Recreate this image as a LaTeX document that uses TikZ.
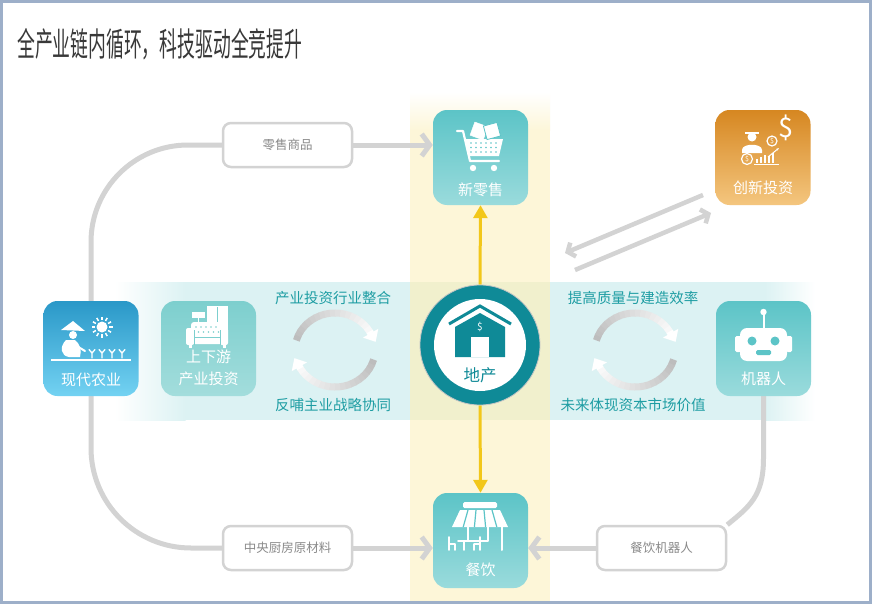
\documentclass[tikz,border=0pt]{standalone}
\usepackage{fontspec}
\usepackage{graphicx}
\setmainfont{Noto Sans CJK SC}
\usetikzlibrary{arrows.meta}
\definecolor{framec}{HTML}{9DAFC9}
\definecolor{ybg}{HTML}{FDF6D8}
\definecolor{cbg}{HTML}{DCF2F3}
\definecolor{ovl}{HTML}{F1F0CD}
\definecolor{connc}{HTML}{D3D3D3}
\definecolor{tealA}{HTML}{5CC4C7}
\definecolor{tealB}{HTML}{9ADBDC}
\definecolor{tealC}{HTML}{7DCFCE}
\definecolor{tealD}{HTML}{A3DDDC}
\definecolor{blueA}{HTML}{2A98C8}
\definecolor{blueB}{HTML}{73D2F2}
\definecolor{orA}{HTML}{D68721}
\definecolor{orB}{HTML}{F4C67F}
\definecolor{ring}{HTML}{0F8A97}
\definecolor{yel}{HTML}{F2C71A}
\definecolor{tealtxt}{HTML}{1E9DA3}
\definecolor{graytxt}{HTML}{8A8A8A}
\definecolor{titlec}{HTML}{383838}
\definecolor{arcg}{HTML}{BDBDBD}
\pgfdeclarelayer{bg}
\pgfdeclarelayer{lines}
\pgfsetlayers{bg,lines,main}
\newcommand\cycarc[4]{%
  \foreach \i in {0,...,17}{%
    \pgfmathsetmacro\cyA{#3+(#4-#3)*\i/18}%
    \pgfmathsetmacro\cyB{#3+(#4-#3)*(\i+1)/18+1}%
    \pgfmathtruncatemacro\cyP{100-\i*90/17}%
    \draw[line width=7pt, arcg!\cyP!white] (#1,#2) ++(\cyA:40 and 37) arc[start angle=\cyA, end angle=\cyB, x radius=40, y radius=37];
  }%
  \pgfmathsetmacro\cyPX{#1+40*cos(#4)}%
  \pgfmathsetmacro\cyPY{#2+37*sin(#4)}%
  \pgfmathsetmacro\cyQX{\cyPX-12*sin(#4)}%
  \pgfmathsetmacro\cyQY{\cyPY+12*cos(#4)}%
  \draw[white, line width=7pt, -{Triangle[length=10pt,width=17pt]}] (\cyPX,\cyPY) -- (\cyQX,\cyQY);
}
\tikzset{
  tile/.style={rounded corners=14pt, minimum width=95pt, minimum height=95pt, inner sep=0pt, shading angle=45},
  tealtile/.style={tile, top color=tealA, bottom color=tealB},
  lab/.style={draw=connc, line width=2.5pt, fill=white, rounded corners=8pt, minimum width=129pt, minimum height=44pt, text=graytxt, font=\fontsize{12.5}{13}\selectfont},
  conn/.style={draw=connc, line width=5pt},
  carrow/.style={conn, -{Straight Barb[length=8pt,width=22pt]}},
  diag/.style={draw=connc, line width=4.5pt, -{Straight Barb[length=6pt,width=15pt]}},
  tiletxt/.style={text=white, font=\fontsize{15}{18}\selectfont, inner sep=0pt},
  cyctxt/.style={text=tealtxt, font=\fontsize{14.5}{16}\selectfont, inner sep=0pt},
  yarrow/.style={draw=yel, line width=3pt, -{Triangle[length=13pt,width=14pt]}},
  wl/.style={draw=white, line cap=round, line join=round},
}
\begin{document}
\begin{tikzpicture}[x=1pt,y=-1pt]
\useasboundingbox (0,0) rectangle (873,605);
\begin{pgfonlayer}{bg}
  \fill[white] (0,0) rectangle (873,605);
  \fill[cbg] (185,282) rectangle (765,420);
  \shade[left color=white, right color=cbg] (115,282) rectangle (185.5,420);
  \shade[left color=cbg, right color=white] (764.5,282) rectangle (815,420);
  \shade[top color=white, bottom color=ybg] (410,92) rectangle (550,130.5);
  \fill[ybg] (410,130) rectangle (550,601);
  \fill[ovl] (410,282) rectangle (550,420);
\end{pgfonlayer}

% title
\node[anchor=west, text=titlec, font=\fontsize{33}{33}\selectfont, inner sep=0pt] (title) at (17,44) {\scalebox{0.54}[1]{全产业链内循环，科技驱动全竞提升}};

% tiles
\node[tealtile] (retail) at (480.5,157.5) {};
\node[tile, top color=orA, bottom color=orB] (invest) at (763,157.5) {};
\node[tile, top color=blueA, bottom color=blueB] (farm) at (91,348.5) {};
\node[tile, top color=tealC, bottom color=tealD] (chain) at (208.5,348.5) {};
\node[tealtile] (robot) at (763.5,348.5) {};
\node[tealtile] (food) at (480.5,540.5) {};
\node[circle, minimum size=120pt, fill=ring, draw=gray!45, line width=0.8pt, inner sep=0pt] (estate) at (480,345) {};
\fill[white] (estate.center) circle (46);

% label boxes
\node[lab] (goods) at (287.5,145) {零售商品};
\node[lab] (kitchen) at (287.5,548) {中央厨房原材料};
\node[lab] (rfood) at (661.5,548) {餐饮机器人};

% connectors
\begin{pgfonlayer}{lines}
  \draw[conn, rounded corners=97pt] (farm.north) |- (goods.west);
  \draw[conn, rounded corners=100pt] (farm.south) |- (kitchen.west);
  \draw[conn] (robot.south) -- ++(0,62) .. controls +(0,38) and +(22,-18) .. (rfood.north east);
  \draw[carrow] (goods.east) -- (goods.east -| retail.west);
  \draw[carrow] (kitchen.east) -- (kitchen.east -| food.west);
  \draw[carrow] (rfood.west) -- (rfood.west -| food.east);
  \draw[yarrow] (estate.north) -- (retail.south);
  \draw[yarrow] (estate.south) -- (food.north);
  \coordinate (d1s) at (703,195);
  \coordinate (d1e) at (565,253);
  \coordinate (d2s) at (575,270);
  \coordinate (d2e) at (711,213);
  \draw[diag] (d1s) -- (d1e);
  \draw[diag] (d2s) -- (d2e);
\end{pgfonlayer}

% tile texts
\node[tiletxt] (retailt) at (480.5,190) {新零售};
\node[tiletxt] (investt) at (763,188) {创新投资};
\node[tiletxt] (farmt) at (91,380) {现代农业};
\node[tiletxt] (chaint1) at (208.5,357) {上下游};
\node[tiletxt] (chaint2) at (208.5,379) {产业投资};
\node[tiletxt] (robott) at (763.5,379) {机器人};
\node[tiletxt] (foodt) at (480.5,570) {餐饮};
\node[text=ring, font=\fontsize{16.5}{18}\selectfont, inner sep=0pt] (estatet) at (480,375) {地产};

% cycle texts
\node[cyctxt] (c1) at (333,298) {产业投资行业整合};
\node[cyctxt] (c2) at (333,405) {反哺主业战略协同};
\node[cyctxt] (c3) at (633,298) {提高质量与建造效率};
\node[cyctxt] (c4) at (633,405) {未来体现资本市场价值};

% cycle arrows
\cycarc{335}{350}{195}{330}
\cycarc{335}{350}{15}{150}
\cycarc{635}{350}{195}{330}
\cycarc{635}{350}{15}{150}

% cart icon
\draw[wl, line width=2.2pt] (457,131) -- (463,131) -- (470,161) -- (499,161);
\fill[white] (465,139) -- (503,139) -- (499,156) -- (469,156) -- cycle;
\foreach \x in {471,476,...,496} \foreach \y in {143,147.5,152} \fill[tealA] (\x,\y) circle (0.9);
\fill[white] (473,168) circle (3.2);
\fill[white] (494,168) circle (3.2);
\draw[white, fill=white, rotate around={-20:(479,131)}] (472,124) rectangle (486,138);
\draw[tealA, line width=0.8pt, fill=white, rotate around={15:(492,131)}] (485,124) rectangle (499,138);

% investment icon
\fill[white] (752,137) circle (4.5);
\fill[white] (745,132) rectangle (759,133.5);
\fill[white] (742,153) -- (742,150) .. controls (742,143) and (762,143) .. (762,150) -- (762,153) -- cycle;
\draw[white, line width=1.2pt] (772,141) circle (5);
\node[text=white, font=\fontsize{7}{7}\selectfont, inner sep=0pt] (coin1) at (772,141) {\$};
\draw[white, line width=1.2pt] (747,159) circle (5.5);
\node[text=white, font=\fontsize{7}{7}\selectfont, inner sep=0pt] (coin2) at (747,159) {\$};
\node[text=white, font=\fontsize{27}{27}\selectfont, inner sep=0pt] (dollar) at (786,128) {\$};
\foreach \x/\h in {756/4,760/6,764/8,768/7,772/10} \fill[white] (\x,163) rectangle (\x+2.2,163-\h);
\draw[white, line width=1pt] (754,164) -- (779,164);
\draw[white, line width=1pt, -{Stealth[length=3pt]}] (768,157) -- (779,148);

% farmer icon
\fill[white] (61,330) -- (73,321) -- (85,331) -- cycle;
\fill[white] (73,335) circle (4);
\fill[white] (66,340) .. controls (59,347) and (61,356) .. (69,357) -- (80,357) .. controls (82,350) and (80,344) .. (75,340) -- cycle;
\draw[wl, line width=2pt] (75,345) -- (85,351);
\draw[white, line width=2pt] (51,359.5) -- (131,359.5);
\foreach \x in {92,102,112,122} {
  \draw[wl, line width=1.3pt] (\x,358) -- (\x,353) -- (\x-3,349.5);
  \draw[wl, line width=1.3pt] (\x,353) -- (\x+3,349.5);
}
\fill[white] (102,327) circle (5.5);
\foreach \a in {0,30,...,330} \draw[white, line width=1.5pt] (102,327) ++(\a:7) -- ++(\a:3.5);

% sofa icon
\fill[white] (192,312) rectangle (205,318);
\draw[white, line width=1.2pt] (198.5,318) -- (198.5,326);
\fill[white] (207,306) rectangle (228,342);
\draw[tealC, line width=1.2pt] (217.5,307) -- (217.5,341);
\fill[white, rounded corners=3pt] (191,322) rectangle (223,344);
\foreach \x in {196,201,...,216} {\fill[tealC] (\x,327) circle (0.8); \fill[tealC] (\x+2.5,332) circle (0.8);}
\draw[tealC, line width=1pt] (194,337) -- (220,337);
\fill[white, rounded corners=2pt] (186,328) rectangle (194,345);
\fill[white, rounded corners=2pt] (220,328) rectangle (228,345);
\draw[tealC, line width=0.8pt] (194,330) -- (194,345) (220,330) -- (220,345);
\fill[white] (189,345) rectangle (191.5,348);
\fill[white] (223,345) rectangle (225.5,348);

% robot icon
\draw[white, line width=2pt] (763.5,313) -- (763.5,330);
\fill[white] (763.5,312) circle (3.2);
\fill[white, rounded corners=1.5pt] (735,336) rectangle (741,352);
\fill[white, rounded corners=1.5pt] (786,336) rectangle (792,352);
\fill[white, rounded corners=7pt] (740,328) rectangle (787,361);
\fill[tealA] (752,341) circle (4.5);
\fill[tealA] (775,341) circle (4.5);
\fill[tealA, rounded corners=1.5pt] (756,350) rectangle (771,355);

% store icon
\fill[white, rounded corners=1.5pt] (463,502) rectangle (497,508);
\fill[white] (460,510) -- (500,510) -- (508,527) -- (452,527) -- cycle;
\foreach \i in {1,...,4} \draw[tealA, line width=1.2pt] (460+\i*8,510) -- (452+\i*11.2,527);
\draw[wl, line width=2pt] (468,527) -- (468,541) -- (488,541) -- (488,527);
\draw[wl, line width=2pt] (502,527) -- (502,550);
\draw[wl, line width=1.6pt] (449,537) -- (449,550) (449,544) -- (455,544) -- (455,550);
\draw[wl, line width=1.6pt] (458,541) -- (470,541) (464,541) -- (464,550);
\draw[wl, line width=1.6pt] (480,537) -- (480,550) (474,544) -- (480,544) (474,544) -- (474,550);

% estate house icon
\fill[ring] (455,357) -- (455,327) -- (480,313) -- (505,327) -- (505,357) -- cycle;
\draw[ring, line width=3pt] (449,324) -- (480,306) -- (511,324);
\fill[white] (471,337) rectangle (489,357);
\node[text=white, font=\fontsize{10}{10}\selectfont, inner sep=0pt] (hs) at (480,327) {\$};

% frame
\draw[framec, line width=3pt] (1.5,1.5) rectangle (870.5,602.5);
\end{tikzpicture}
\end{document}
